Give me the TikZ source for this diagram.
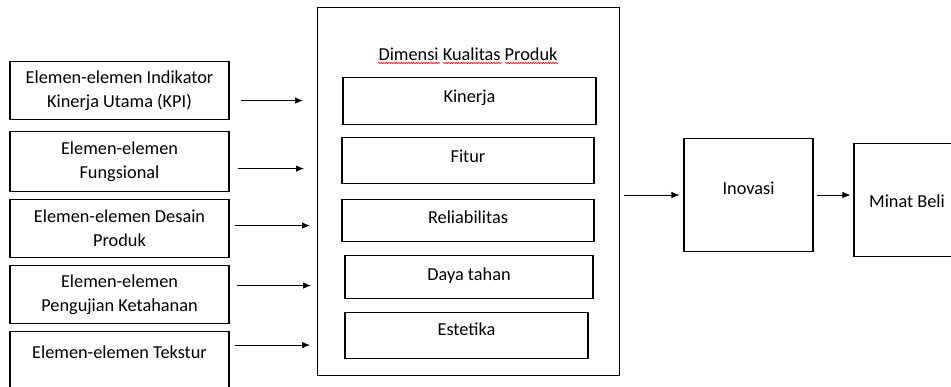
\documentclass[tikz,border=0pt]{standalone}
\usepackage{fontspec}
\setmainfont{Carlito}
\usetikzlibrary{arrows.meta,calc,decorations.pathmorphing}

\tikzset{
box/.style={draw, line width=1.1pt, inner sep=0pt, anchor=north, align=center, font=\fontsize{18.3}{24}\selectfont},
dim/.style={box, text height=25pt},
arr/.style={-{Latex[length=8pt,width=6.5pt]}, line width=0.8pt},
}

\begin{document}
\begin{tikzpicture}[x=1pt,y=-1pt]
\useasboundingbox (0,0) rectangle (951,387);
\clip (0,0) rectangle (951,387);

\node[box, minimum width=219pt, minimum height=58pt] (1) at (119.5,61) {Elemen-elemen Indikator\\Kinerja Utama (KPI)};
\node[box, minimum width=219pt, minimum height=60pt] (2) at (119.5,131) {Elemen-elemen\\Fungsional};
\node[box, minimum width=219pt, minimum height=58pt] (3) at (119.5,199) {Elemen-elemen Desain\\Produk};
\node[box, minimum width=219pt, minimum height=58pt] (4) at (119.5,265) {Elemen-elemen\\Pengujian Ketahanan};
\node[box, minimum width=219pt, text height=27pt, text depth=40pt] (5) at (119.5,331) {Elemen-elemen Tekstur};

\node[draw, line width=1.1pt, inner sep=0pt, anchor=north west, minimum width=302pt, minimum height=368pt] (6) at (317,7) {};
\node[font=\fontsize{18.3}{24}\selectfont] (14) at (468,54) {Dimensi Kualitas Produk};
\draw[red, line width=0.6pt, decorate, decoration={snake, amplitude=0.6pt, segment length=2.5pt}] (378,63) -- (440,63);
\draw[red, line width=0.6pt, decorate, decoration={snake, amplitude=0.6pt, segment length=2.5pt}] (443,63) -- (502,63);
\draw[red, line width=0.6pt, decorate, decoration={snake, amplitude=0.6pt, segment length=2.5pt}] (505,63) -- (558,63);

\node[dim, minimum width=253pt, text depth=22pt] (7) at (469.5,77) {Kinerja};
\node[dim, minimum width=252pt, text depth=21pt] (8) at (468,137) {Fitur};
\node[dim, minimum width=252pt, text height=24pt, text depth=18pt] (9) at (468,199) {Reliabilitas};
\node[dim, minimum width=248pt, text depth=18pt] (10) at (469,255) {Daya tahan};
\node[dim, minimum width=243pt, text height=23pt, text depth=23pt] (11) at (466.5,312) {Estetika};

\node[box, minimum width=129pt, text height=56pt, text depth=57pt] (12) at (748.5,138) {Inovasi};
\node[box, minimum width=106pt, text height=64pt, text depth=49pt] (13) at (907,143) {Minat Beli};

\draw[arr, shorten <=11pt, shorten >=14pt] ($(1.east)+(0,10)$) -- ($(1.east -| 6.west)+(0,10)$);
\draw[arr, shorten <=8pt, shorten >=13pt] ($(2.east)+(0,7)$) -- ($(2.east -| 6.west)+(0,7)$);
\draw[arr, shorten <=5pt, shorten >=7pt] ($(3.east)+(0,-3)$) -- ($(3.east -| 6.west)+(0,-3)$);
\draw[arr, shorten <=7pt, shorten >=6pt] ($(4.east)+(0,-9)$) -- ($(4.east -| 6.west)+(0,-9)$);
\draw[arr, shorten <=5pt, shorten >=7pt] ($(5.east)+(0,-20)$) -- ($(5.east -| 6.west)+(0,-20)$);
\draw[arr, shorten <=4pt, shorten >=4pt] (6.east |- 12.west) -- (12.west);
\draw[arr, shorten <=3pt, shorten >=3pt] (12.east) -- (12.east -| 13.west);

\end{tikzpicture}
\end{document}
